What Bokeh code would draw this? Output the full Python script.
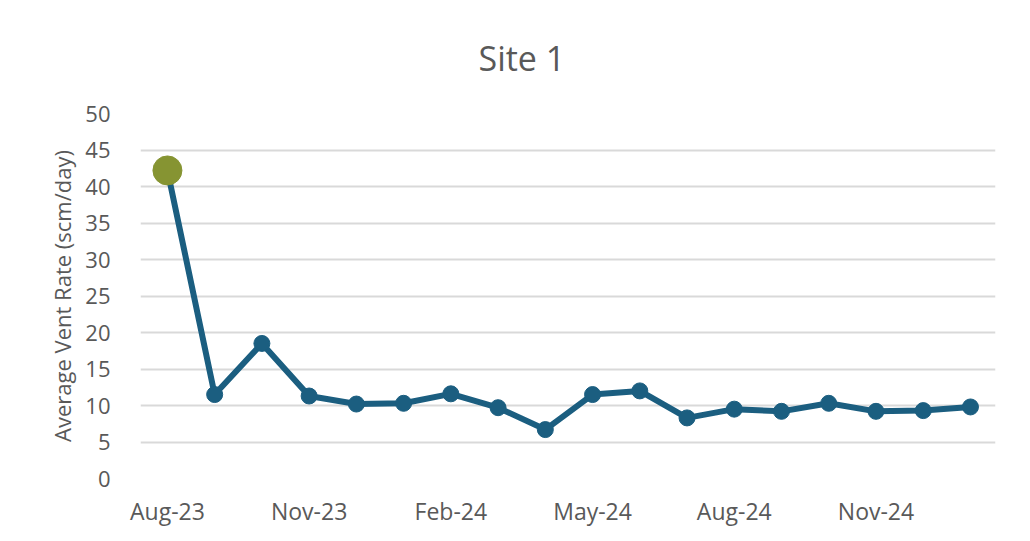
from bokeh.plotting import figure
from bokeh.models import ColumnDataSource, FixedTicker, Range1d, Title
from bokeh.embed import file_html
from bokeh.resources import INLINE

months = ["Aug-23", "Sep-23", "Oct-23", "Nov-23", "Dec-23", "Jan-24", "Feb-24", "Mar-24", "Apr-24",
          "May-24", "Jun-24", "Jul-24", "Aug-24", "Sep-24", "Oct-24", "Nov-24", "Dec-24", "Jan-25"]
vent_rate = [42.2, 11.5, 18.5, 11.3, 10.2, 10.3, 11.6, 9.7, 6.7,
             11.5, 12.0, 8.3, 9.5, 9.2, 10.3, 9.2, 9.3, 9.8]
tick_months = ["Aug-23", "Nov-23", "Feb-24", "May-24", "Aug-24", "Nov-24"]
y_ticks = [0, 5, 10, 15, 20, 25, 30, 35, 40, 45, 50]
title_text = "Site 1"

idx = list(range(len(months)))
src = ColumnDataSource(dict(x=idx, y=vent_rate, m=months))

FONT = "Open Sans"
GRAY = "#595959"

p = figure(width=1022, height=533, output_backend="svg", toolbar_location=None,
           x_range=Range1d(-0.57, len(months) - 1 + 0.53), y_range=Range1d(0, 50),
           min_border_left=140, min_border_right=27, min_border_top=113, min_border_bottom=55)
p.border_fill_color = "white"

p.title = Title(text=title_text, align="left", offset=338, vertical_align="middle",
                text_font=FONT, text_font_size="34px",
                text_font_style="normal", text_color=GRAY, standoff=64)

p.line("x", "y", source=src, line_color="#1b5e80", line_width=6)
p.scatter("x", "y", source=src, size=16, fill_color="#1b5e80", line_color="#1b5e80")
first = ColumnDataSource(dict(x=idx[:1], y=vent_rate[:1]))
p.scatter("x", "y", source=first, size=29, fill_color="#869432", line_color="#869432")

tick_pos = [months.index(t) for t in tick_months]
p.xaxis.ticker = FixedTicker(ticks=tick_pos)
p.xaxis.major_label_overrides = {i: months[i] for i in tick_pos}
p.yaxis.ticker = FixedTicker(ticks=y_ticks)

for ax in (p.xaxis[0], p.yaxis[0]):
    ax.axis_line_color = None
    ax.major_tick_line_color = None
    ax.minor_tick_line_color = None
    ax.major_label_text_font = FONT
    ax.major_label_text_font_size = "22px"
    ax.major_label_text_color = GRAY

p.xaxis.major_label_text_font_size = "23px"
p.xaxis.major_label_standoff = 10
p.yaxis.major_label_standoff = 24

p.yaxis.axis_label = "Average Vent Rate (scm/day)"
p.yaxis.axis_label_text_font = FONT
p.yaxis.axis_label_text_font_size = "22px"
p.yaxis.axis_label_text_font_style = "normal"
p.yaxis.axis_label_text_color = GRAY
p.yaxis.axis_label_standoff = 5

p.xgrid.grid_line_color = None
p.ygrid.grid_line_color = "#d9d9d9"
p.ygrid.grid_line_width = 2
p.outline_line_color = None

open("out.html", "w").write(file_html(p, INLINE))
